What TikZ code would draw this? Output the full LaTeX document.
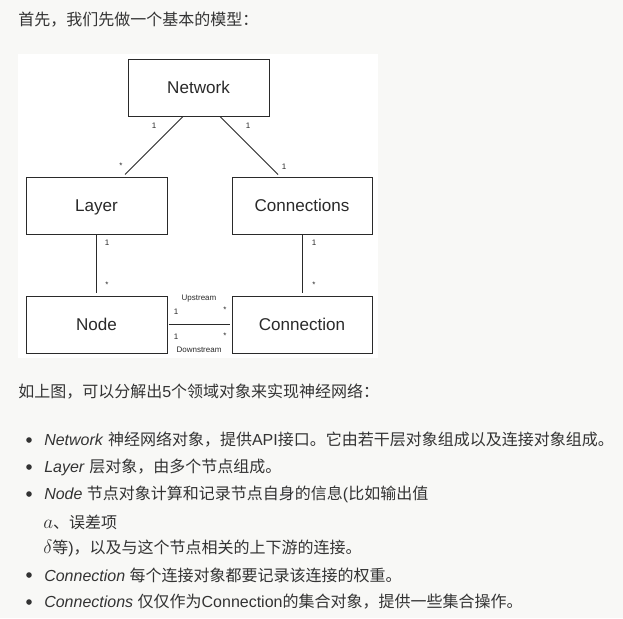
\documentclass[tikz,border=0pt]{standalone}
\usepackage{fontspec}
\setmainfont{Liberation Sans}
\newfontfamily\cjk{Noto Sans CJK SC}
\definecolor{bg}{HTML}{F8F8F6}
\definecolor{txt}{HTML}{333333}
\definecolor{ink}{HTML}{2A2A2A}
\tikzset{
  box/.style={draw=ink, line width=0.75pt, minimum width=105.75pt, minimum height=42.75pt,
    inner sep=0pt, text height=9.2pt, text depth=0pt, text=ink, font=\fontsize{12.8}{14}\selectfont},
  conn/.style={draw=ink, line width=0.7pt},
  lbl/.style={inner sep=0pt, text=ink, font=\fontsize{6}{7}\selectfont},
  para/.style={anchor=west, inner sep=0pt, text=txt, font=\fontsize{12}{14}\selectfont},
  bullet/.style={circle, fill=txt, inner sep=0pt, minimum size=4.2pt}
}
\newcommand{\mth}[1]{{\fontsize{13.5}{14}\selectfont$#1$}}
\begin{document}
\begin{tikzpicture}[x=0.75pt,y=-0.75pt]
% background and panel
\fill[bg] (0,0) rectangle (623,618);
\fill[white] (18,54) rectangle (378,358);

% boxes
\node[box] (network) at (198.5,87.5) {Network};
\node[box] (layer) at (96.5,205.5) {Layer};
\node[box, minimum width=105pt] (connections) at (302,205.5) {Connections};
\node[box] (node) at (96.5,324.5) {Node};
\node[box, minimum width=105pt] (connection) at (302,324.5) {Connection};

% connectors
\draw[conn] ([xshift=-11.6pt]network.south) -- ([xshift=21.4pt,yshift=1.5pt]layer.north);
\draw[conn] ([xshift=16.1pt]network.south) -- ([xshift=-18pt,yshift=1.5pt]connections.north);
\draw[conn] ([xshift=-0.4pt]layer.south) -- ([xshift=-0.4pt,yshift=2.2pt]node.north);
\draw[conn] (connections.south) -- ([yshift=2.2pt]connection.north);
\draw[conn] ([xshift=0.8pt,yshift=0.4pt]node.east) -- ([xshift=-1.5pt,yshift=0.4pt]connection.west);

% multiplicity labels
\node[lbl] (m1) at (154,126) {1};
\node[lbl] (m2) at (121,166) {*};
\node[lbl] (m3) at (248,126) {1};
\node[lbl] (m4) at (284,167) {1};
\node[lbl] (m5) at (107,243) {1};
\node[lbl] (m6) at (107,285) {*};
\node[lbl] (m7) at (314,243) {1};
\node[lbl] (m8) at (314,285) {*};
\node[lbl] (up) at (199,299) {Upstream};
\node[lbl] (m9) at (176,312) {1};
\node[lbl] (m10) at (225,310) {*};
\node[lbl] (m11) at (176,337) {1};
\node[lbl] (m12) at (225,336) {*};
\node[lbl] (down) at (199,350) {Downstream};

% text
\node[para] (title) at (18,20) {\cjk 首先，我们先做一个基本的模型：};
\node[para] (intro) at (18,392) {{\cjk 如上图，可以分解出}5{\cjk 个领域对象来实现神经网络：}};

\node[bullet] (b1) at (29,440) {};
\node[bullet] (b2) at (29,467) {};
\node[bullet] (b3) at (29,494) {};
\node[bullet] (b4) at (29,575) {};
\node[bullet] (b5) at (29,602) {};

\node[para] (t1) at (44,440) {\textit{Network} {\cjk 神经网络对象，提供}API{\cjk 接口。它由若干层对象组成以及连接对象组成。}};
\node[para] (t2) at (44,467) {\textit{Layer} {\cjk 层对象，由多个节点组成。}};
\node[para] (t3) at (44,494) {\textit{Node} {\cjk 节点对象计算和记录节点自身的信息}({\cjk 比如输出值}};
\node[para] (t4) at (43,522) {\mth{a}{\cjk 、误差项}};
\node[para] (t5) at (43,548) {\mth{\delta}{\cjk 等}){\cjk ，以及与这个节点相关的上下游的连接。}};
\node[para] (t6) at (44,575) {\textit{Connection} {\cjk 每个连接对象都要记录该连接的权重。}};
\node[para] (t7) at (44,602) {\textit{Connections} {\cjk 仅仅作为}Connection{\cjk 的集合对象，提供一些集合操作。}};
\end{tikzpicture}
\end{document}
